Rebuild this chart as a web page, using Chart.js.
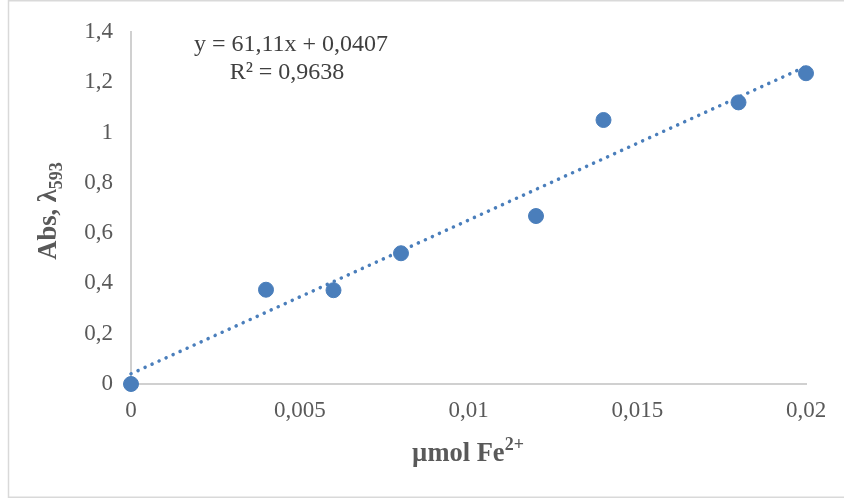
<!DOCTYPE html>
<html><head><meta charset="utf-8">
<script src="https://cdn.jsdelivr.net/npm/chart.js@4"></script>
<style>html,body{margin:0;padding:0;background:#fff;}#w{position:relative;width:844px;height:499px;}</style>
</head><body><div id="w"><canvas id="c" width="844" height="499"></canvas></div>
<script>
const xValues = [0, 0.004, 0.006, 0.008, 0.012, 0.014, 0.018, 0.02];
const yValues = [0, 0.375, 0.373, 0.52, 0.668, 1.05, 1.12, 1.236];
const slope = 61.11;
const intercept = 0.0407;
const trendX = [0, 0.02];
const equationLines = ['y = 61,11x + 0,0407', 'R² = 0,9638'];

const fmt = v => String(Number(v.toFixed(4))).replace('.', ',');
const pts = xValues.map((x, i) => ({x, y: yValues[i]}));
const trend = trendX.map(x => ({x, y: slope * x + intercept}));

const TF = 26.5, SF = 18;
const deco = {
  id: 'deco',
  afterDraw(chart) {
    const ctx = chart.ctx;
    ctx.save();
    ctx.strokeStyle = '#d9d9d9'; ctx.lineWidth = 1.5;
    ctx.strokeRect(8.5, 0.75, 860, 496.5);
    // equation
    ctx.fillStyle = '#404040';
    ctx.font = '24px "Liberation Serif"';
    ctx.textAlign = 'center'; ctx.textBaseline = 'middle';
    ctx.fillText(equationLines[0], 291, 45);
    ctx.fillText(equationLines[1], 287, 73);
    // x title
    ctx.fillStyle = '#595959';
    ctx.textAlign = 'left'; ctx.textBaseline = 'alphabetic';
    ctx.font = 'bold ' + TF + 'px "Liberation Serif"';
    const t1 = 'µmol Fe';
    const w1 = ctx.measureText(t1).width;
    ctx.font = 'bold ' + SF + 'px "Liberation Serif"';
    const w2 = ctx.measureText('2+').width;
    const startX = 468 - (w1 + w2) / 2;
    ctx.font = 'bold ' + TF + 'px "Liberation Serif"';
    ctx.fillText(t1, startX, 461);
    ctx.font = 'bold ' + SF + 'px "Liberation Serif"';
    ctx.fillText('2+', startX + w1, 450);
    // y title
    ctx.translate(56, 211);
    ctx.rotate(-Math.PI / 2);
    ctx.font = 'bold ' + TF + 'px "Liberation Serif"';
    const a1 = 'Abs, λ';
    const aw1 = ctx.measureText(a1).width;
    ctx.font = 'bold ' + SF + 'px "Liberation Serif"';
    const aw2 = ctx.measureText('593').width;
    const sx = -(aw1 + aw2) / 2;
    ctx.font = 'bold ' + TF + 'px "Liberation Serif"';
    ctx.fillText(a1, sx, 0);
    ctx.font = 'bold ' + SF + 'px "Liberation Serif"';
    ctx.fillText('593', sx + aw1, 6);
    ctx.restore();
  }
};

new Chart(document.getElementById('c'), {
  type: 'scatter',
  data: {
    datasets: [
      {data: pts, backgroundColor: '#4a7ebb', borderColor: '#4a7ebb', pointRadius: 7.5, pointHoverRadius: 7.5, clip: false, order: 1},
      {type: 'line', data: trend, showLine: true, borderColor: '#4a7ebb', borderWidth: 3.5, borderDash: [0.1, 7.6], borderCapStyle: 'round', pointRadius: 0, fill: false, clip: false, order: 2}
    ]
  },
  options: {
    responsive: false, animation: false, events: [],
    layout: {padding: {top: 32, right: 38, left: 0, bottom: 0}},
    plugins: {legend: {display: false}, tooltip: {enabled: false}},
    scales: {
      x: {
        type: 'linear', min: 0, max: 0.02,
        afterFit: s => { s.height = 115; },
        grid: {display: false, drawTicks: false},
        border: {display: true, color: '#d0d0d0', width: 2},
        ticks: {stepSize: 0.005, padding: 13, color: '#595959', font: {family: 'Liberation Serif', size: 23}, callback: v => fmt(v), maxRotation: 0, autoSkip: false}
      },
      y: {
        min: 0, max: 1.4,
        afterFit: s => { s.width = 131; },
        grid: {display: false, drawTicks: false},
        border: {display: true, color: '#d0d0d0', width: 2},
        ticks: {stepSize: 0.2, padding: 18, color: '#595959', font: {family: 'Liberation Serif', size: 23}, callback: v => fmt(v)}
      }
    }
  },
  plugins: [deco]
});
</script></body></html>
